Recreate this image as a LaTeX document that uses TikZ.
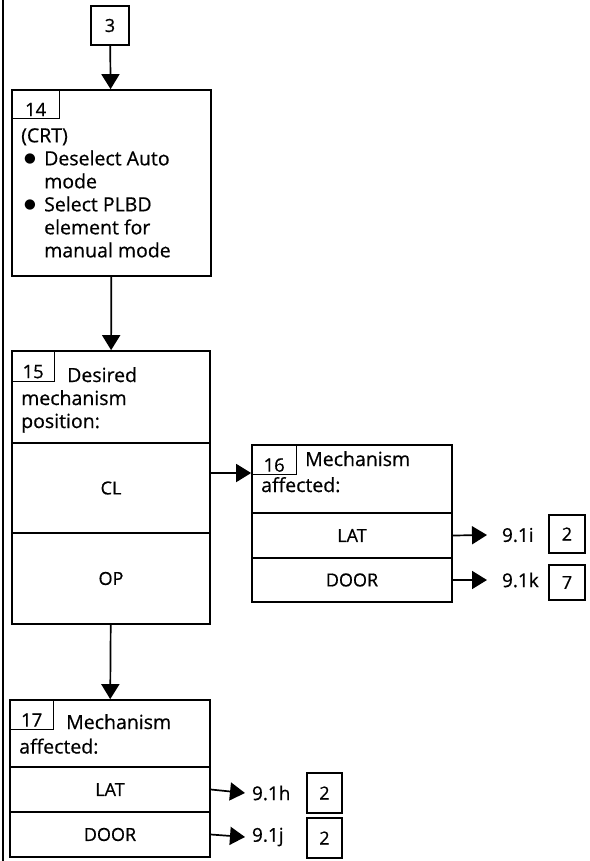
\documentclass[tikz,border=0pt]{standalone}
\usepackage{fontspec}
\setmainfont{Open Sans}[FakeBold=0.6]
\newfontfamily\dotfont{DejaVu Sans}
\usetikzlibrary{arrows.meta}
\newcommand{\bigdot}{\makebox[23pt][l]{\hspace*{3pt}\raisebox{2.5pt}{\dotfont\fontsize{13.5}{13.5}\selectfont ●}}}
\tikzset{
  box/.style={draw,line width=1.7pt,inner sep=0pt,font=\fontsize{18}{22}\selectfont},
  tagbox/.style={draw,line width=1pt,anchor=north west,inner sep=0pt,
    text height=24pt,text depth=0pt,font=\fontsize{18.5}{22}\selectfont},
  boxtext/.style={anchor=north west,inner sep=0pt,align=left,
    font=\fontsize{19.5}{23}\selectfont},
  reflabel/.style={anchor=west,inner sep=0pt,font=\fontsize{19}{22}\selectfont},
  arr/.style={-{Triangle[length=15pt,width=18pt]},line width=1.7pt},
}
\begin{document}
\begin{tikzpicture}[x=1pt,y=-1pt]
\useasboundingbox (0,0) rectangle (589,861);
% page rule on the left
\draw[line width=1.3pt] (3,0) -- (3,861);

% entry
\node[box,minimum width=38pt,minimum height=39pt] (n3) at (110,25.5) {3};

% step 14
\node[box,minimum width=199pt,minimum height=186pt] (n14) at (111.5,183) {};
\node[tagbox,minimum width=48pt,minimum height=29pt] (t14) at (n14.north west) {14};
\node[boxtext] (x14) at (21,128) {(CRT)\\
  \bigdot Deselect Auto\\
  \hspace*{23pt}mode\\
  \bigdot Select PLBD\\
  \hspace*{23pt}element for\\
  \hspace*{23pt}manual mode};

% step 15
\node[box,minimum width=198pt,minimum height=92pt] (n15head) at (111,397) {};
\node[box,minimum width=198pt,minimum height=90pt] (n15cl) at (111,488) {CL};
\node[box,minimum width=198pt,minimum height=91pt] (n15op) at (111,578.5) {OP};
\node[tagbox,minimum width=43pt,minimum height=31pt] (t15) at (n15head.north west) {15};
\node[boxtext] (x15) at (21,367) {\hspace*{46pt}Desired\\mechanism\\position:};

% step 16
\node[box,minimum width=200pt,minimum height=68pt] (n16head) at (352,479) {};
\node[box,minimum width=200pt,minimum height=45pt] (n16lat) at (352,535.5) {LAT};
\node[box,minimum width=200pt,minimum height=44pt] (n16door) at (352,580) {DOOR};
\node[tagbox,minimum width=45pt,minimum height=30pt] (t16) at (n16head.north west) {16};
\node[boxtext,font=\fontsize{19.5}{26}\selectfont] (x16) at (261,451) {\hspace*{44pt}Mechanism\\affected:};

% step 17
\node[box,minimum width=200pt,minimum height=67pt] (n17head) at (110,733.5) {};
\node[box,minimum width=200pt,minimum height=45pt] (n17lat) at (110,789.5) {LAT};
\node[box,minimum width=200pt,minimum height=45pt] (n17door) at (110,834.5) {DOOR};
\node[tagbox,minimum width=44pt,minimum height=30pt] (t17) at (n17head.north west) {17};
\node[boxtext,font=\fontsize{19.5}{24.5}\selectfont] (x17) at (19,714) {\hspace*{47pt}Mechanism\\affected:};

% exits
\node[reflabel,outer xsep=15pt] (l91i) at (487,535) {9.1i};
\node[box,minimum width=36pt,minimum height=38pt] (b2a) at (567,534) {2};
\node[reflabel,outer xsep=15pt] (l91k) at (487,580) {9.1k};
\node[box,minimum width=36pt,minimum height=35pt] (b7) at (567,582.5) {7};
\node[reflabel,outer xsep=7pt] (l91h) at (245,793) {9.1h};
\node[box,minimum width=35pt,minimum height=40pt] (b2b) at (324.5,793) {2};
\node[reflabel,outer xsep=7pt] (l91j) at (245,837) {9.1j};
\node[box,minimum width=35pt,minimum height=40pt] (b2c) at (324.5,838) {2};

% flow
\draw[arr] (n3) -- (n14);
\draw[arr] (n14) -- (n15head);
\draw[arr] ([yshift=6pt]n16head.west -| n15cl.east) -- ([yshift=6pt]n16head.west);
\draw[arr] (n15op) -- (n17head);
\draw[arr] (n16lat.east) -- (l91i.west);
\draw[arr] (n16door.east) -- (l91k.west);
\draw[arr] (n17lat.east) -- (l91h.west);
\draw[arr] (n17door.east) -- (l91j.west);
\end{tikzpicture}
\end{document}
